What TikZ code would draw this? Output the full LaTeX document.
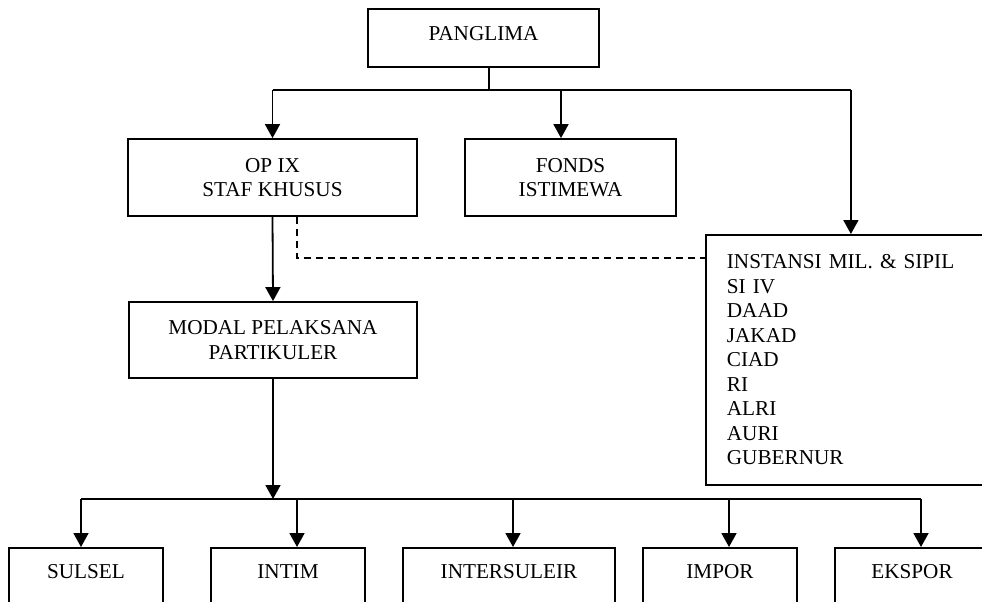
\documentclass[tikz,border=0pt]{standalone}
\usepackage{fontspec}
\setmainfont{Liberation Serif}
\usetikzlibrary{arrows.meta}

\begin{document}
\begin{tikzpicture}[
    x=1pt,y=-1pt,
    font=\fontsize{21.2}{24.5}\selectfont,
    box/.style={draw, line width=1.8pt, rectangle, align=center, inner sep=0pt},
    lowbox/.style={box, anchor=north, minimum width=154pt, text height=14pt, text depth=50pt, inner ysep=17pt},
    line/.style={line width=1.8pt},
    arr/.style={line, -{Triangle[length=14pt,width=15pt]}}
    ]
    \useasboundingbox (0,0) rectangle (982,602);
    \clip (0,0) rectangle (982,602);

    % upper part
    \node[box, minimum width=231pt, minimum height=58pt, text depth=10pt] (panglima) at (483.5,38) {PANGLIMA};
    \node[box, minimum width=289pt, minimum height=77pt] (opix) at (272.5,177.5) {OP IX\\STAF KHUSUS};
    \node[box, minimum width=211pt, minimum height=77pt] (fonds) at (570.5,177.5) {FONDS\\ISTIMEWA};
    \node[box, anchor=north west, minimum height=250pt, text width=248pt, align=left, inner xsep=21pt] (instansi) at (705,234)
      {INSTANSI MIL. \& SIPIL\\SI IV\\DAAD\\JAKAD\\CIAD\\RI\\ALRI\\AURI\\GUBERNUR};
    \node[box, minimum width=288pt, minimum height=76pt] (modal) at (273,340) {MODAL PELAKSANA\\PARTIKULER};

    % lower row
    \node[lowbox] (sulsel) at (86,547) {SULSEL};
    \node[lowbox] (intim) at (288,547) {INTIM};
    \node[lowbox, minimum width=212pt] (intersuleir) at (509,547) {INTERSULEIR};
    \node[lowbox] (impor) at (720,547) {IMPOR};
    \node[lowbox] (ekspor) at (912,547) {EKSPOR};

    \coordinate (bus) at (489,90);
    \coordinate (bus2) at (273,499);

    \draw[line] (panglima.south -| bus) -- (bus);
    \draw[line] (opix.north |- bus) -- (instansi.north |- bus);
    \draw[arr] (opix.north |- bus) -- (opix.north);
    \draw[arr] ([xshift=-9.5pt]fonds.north |- bus) -- ([xshift=-9.5pt]fonds.north);
    \draw[arr] (instansi.north |- bus) -- (instansi.north);
    \draw[arr] (opix.south) -- (modal.north);
    \draw[line, dash pattern=on 7pt off 5pt] ([xshift=24.5pt]opix.south) |- ([yshift=-24pt]instansi.north west);

    \draw[arr] (modal.south) -- (bus2);
    \draw[line] ([xshift=-5pt]sulsel.north |- bus2) -- ([xshift=9pt]ekspor.north |- bus2);
    \foreach \n/\s in {sulsel/-5, intim/9, intersuleir/4, impor/9, ekspor/9}
      \draw[arr] ([xshift=\s pt]\n.north |- bus2) -- ([xshift=\s pt]\n.north);
  \end{tikzpicture}
\end{document}
